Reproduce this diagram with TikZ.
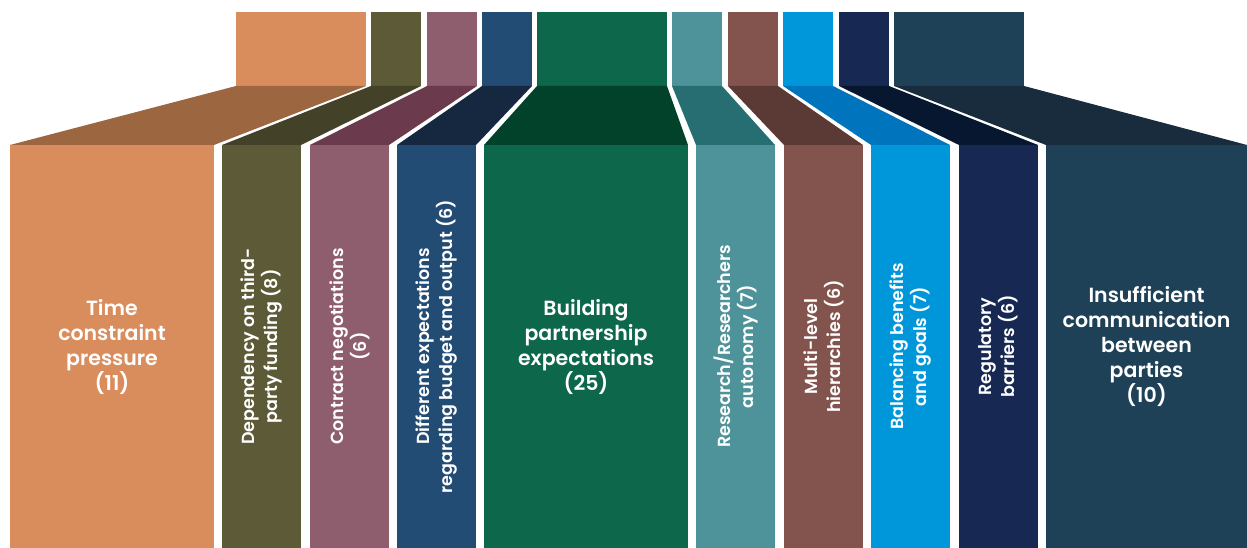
\documentclass[tikz,border=0pt]{standalone}
\usepackage{fontspec}
\newfontfamily\barfont{Poppins}[UprightFont=* SemiBold]
\usepackage{tikz}
\usetikzlibrary{positioning}

\definecolor{orangeA}{HTML}{DA8D5C}
\definecolor{orangeB}{HTML}{9C6641}
\definecolor{oliveA}{HTML}{5D5A37}
\definecolor{oliveB}{HTML}{434128}
\definecolor{mauveA}{HTML}{8E5E6E}
\definecolor{mauveB}{HTML}{6B3A4D}
\definecolor{blueA}{HTML}{224C74}
\definecolor{blueB}{HTML}{15283F}
\definecolor{greenA}{HTML}{0D674A}
\definecolor{greenB}{HTML}{02412A}
\definecolor{tealA}{HTML}{4E9399}
\definecolor{tealB}{HTML}{276E73}
\definecolor{brownA}{HTML}{82544D}
\definecolor{brownB}{HTML}{5B3A35}
\definecolor{skyA}{HTML}{0096DA}
\definecolor{skyB}{HTML}{0075BE}
\definecolor{navyA}{HTML}{172853}
\definecolor{navyB}{HTML}{07172F}
\definecolor{slateA}{HTML}{1F4157}
\definecolor{slateB}{HTML}{182C3E}

\begin{document}
\begin{tikzpicture}[x=1pt,y=1pt,every node/.style={inner sep=0,outer sep=0},
    head/.style={anchor=south west,minimum height=74pt},
    bar/.style={anchor=south west,minimum height=403pt},
    txt/.style={text=white,align=center,font=\barfont\fontsize{20.5}{25}\selectfont},
    vtxt/.style={text=white,align=center,rotate=90,font=\barfont\fontsize{17.5}{23}\selectfont}]
	\useasboundingbox (0,0) rectangle (1247,548);
	% top blocks
	\node (h1) [head,fill=orangeA,minimum width=130pt] at (236,462) {};
	\node (h2) [head,fill=oliveA,minimum width=50pt] at (371,462) {};
	\node (h3) [head,fill=mauveA,minimum width=50pt] at (427,462) {};
	\node (h4) [head,fill=blueA,minimum width=50pt] at (482,462) {};
	\node (h5) [head,fill=greenA,minimum width=130pt] at (537,462) {};
	\node (h6) [head,fill=tealA,minimum width=50pt] at (672,462) {};
	\node (h7) [head,fill=brownA,minimum width=50pt] at (728,462) {};
	\node (h8) [head,fill=skyA,minimum width=50pt] at (783,462) {};
	\node (h9) [head,fill=navyA,minimum width=50pt] at (839,462) {};
	\node (h10) [head,fill=slateA,minimum width=130pt] at (894,462) {};
	% bars
	\node (b1) [bar,fill=orangeA,minimum width=204pt] at (10,0) {};
	\node (b2) [bar,fill=oliveA,minimum width=79pt] at (222,0) {};
	\node (b3) [bar,fill=mauveA,minimum width=79pt] at (310,0) {};
	\node (b4) [bar,fill=blueA,minimum width=79pt] at (397,0) {};
	\node (b5) [bar,fill=greenA,minimum width=204pt] at (484,0) {};
	\node (b6) [bar,fill=tealA,minimum width=79pt] at (696,0) {};
	\node (b7) [bar,fill=brownA,minimum width=79pt] at (784,0) {};
	\node (b8) [bar,fill=skyA,minimum width=79pt] at (871,0) {};
	\node (b9) [bar,fill=navyA,minimum width=79pt] at (959,0) {};
	\node (b10) [bar,fill=slateA,minimum width=201pt] at (1046,0) {};
	% slanted joins
	\fill[orangeB] (h1.south west) -- (h1.south east) -- (b1.north east) -- (b1.north west) -- cycle;
	\fill[oliveB] (h2.south west) -- (h2.south east) -- (b2.north east) -- (b2.north west) -- cycle;
	\fill[mauveB] (h3.south west) -- (h3.south east) -- (b3.north east) -- (b3.north west) -- cycle;
	\fill[blueB] (h4.south west) -- (h4.south east) -- (b4.north east) -- (b4.north west) -- cycle;
	\fill[greenB] (h5.south west) -- (h5.south east) -- (b5.north east) -- (b5.north west) -- cycle;
	\fill[tealB] (h6.south west) -- (h6.south east) -- (b6.north east) -- (b6.north west) -- cycle;
	\fill[brownB] (h7.south west) -- (h7.south east) -- (b7.north east) -- (b7.north west) -- cycle;
	\fill[skyB] (h8.south west) -- (h8.south east) -- (b8.north east) -- (b8.north west) -- cycle;
	\fill[navyB] (h9.south west) -- (h9.south east) -- (b9.north east) -- (b9.north west) -- cycle;
	\fill[slateB] (h10.south west) -- (h10.south east) -- (b10.north east) -- (b10.north west) -- cycle;
	% labels
	\node (l1) [txt] at (b1) {Time\\constraint\\pressure\\(11)};
	\node (l2) [vtxt] at (b2) {Dependency on third-\\party funding (8)};
	\node (l3) [vtxt] at (b3) {Contract negotiations\\(6)};
	\node (l4) [vtxt] at (b4) {Different expectations\\regarding budget and output (6)};
	\node (l5) [txt] at (b5) {Building\\partnership\\expectations\\(25)};
	\node (l6) [vtxt] at (b6) {Research/Researchers\\autonomy (7)};
	\node (l7) [vtxt] at (b7) {Multi-level\\hierarchies (6)};
	\node (l8) [vtxt] at (b8) {Balancing benefits\\and goals (7)};
	\node (l9) [vtxt] at (b9) {Regulatory\\barriers (6)};
	\node (l10) [txt] at (b10) {Insufficient\\communication\\between\\parties\\(10)};
\end{tikzpicture}
\end{document}
